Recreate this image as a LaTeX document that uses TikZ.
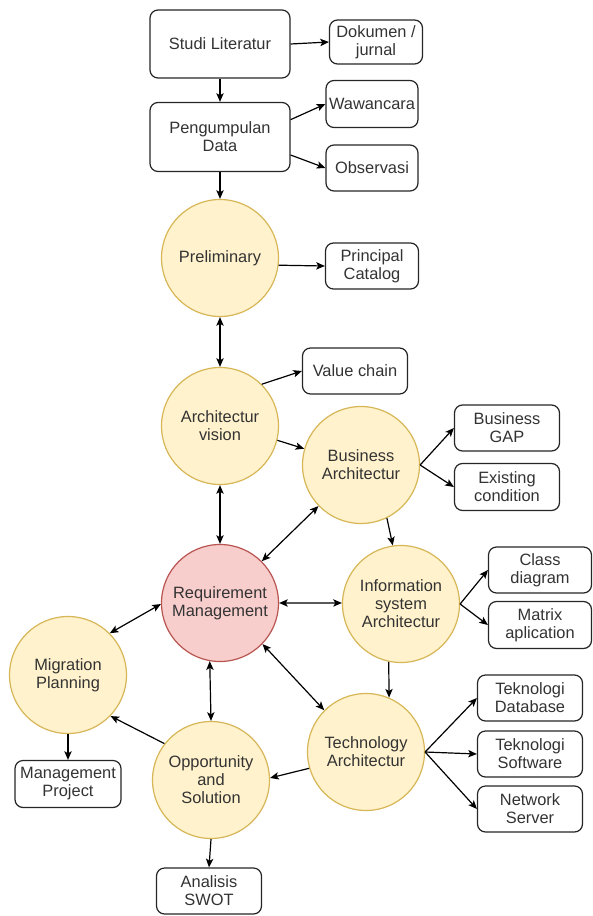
\documentclass[tikz,border=0pt]{standalone}
\usepackage{fontspec}
\setmainfont{Liberation Sans}
\usetikzlibrary{arrows.meta}
\definecolor{yfill}{HTML}{FFF2CC}
\definecolor{ydraw}{HTML}{D6B656}
\definecolor{rfill}{HTML}{F8CECC}
\definecolor{rdraw}{HTML}{B85450}
\definecolor{txt}{HTML}{333333}
\begin{document}
\begin{tikzpicture}[x=0.75pt,y=-0.75pt,
  every node/.style={font=\fontsize{12.3}{13.5}\selectfont, text=txt, align=center, inner sep=0pt},
  box/.style={draw=black!85, line width=0.9pt, rounded corners=6pt, fill=white},
  yc/.style={circle, draw=ydraw, fill=yfill, line width=0.9pt, minimum size=87.75pt},
  rc/.style={circle, draw=rdraw, fill=rfill, line width=0.9pt, minimum size=87.75pt},
  tip/.tip={Stealth[length=6.5pt,width=5.5pt,inset=1.5pt]},
  arr/.style={-tip, line width=0.9pt, draw=black},
  dbl/.style={tip-tip, line width=0.9pt, draw=black}
]
\useasboundingbox (0,0) rectangle (592,916);

% boxes
\node[box, minimum width=105pt, minimum height=51pt] (st) at (220,44) {Studi Literatur};
\node[box, minimum width=69.75pt, minimum height=33pt] (dok) at (376,42) {Dokumen /\\jurnal};
\node[box, minimum width=105pt, minimum height=51.75pt] (pe) at (220,137) {Pengumpulan\\Data};
\node[box, minimum width=69pt, minimum height=35.25pt] (wa) at (372,104) {Wawancara};
\node[box, minimum width=69pt, minimum height=34.5pt] (ob) at (372,168) {Observasi};
\node[box, minimum width=69.75pt, minimum height=34.5pt] (pc) at (372,266) {Principal\\Catalog};
\node[box, minimum width=78.75pt, minimum height=34.5pt] (vc) at (355,371) {Value chain};
\node[box, minimum width=78.75pt, minimum height=34.5pt] (gap) at (507,428) {Business\\GAP};
\node[box, minimum width=78.75pt, minimum height=35.25pt] (ex) at (507,487) {Existing\\condition};
\node[box, minimum width=77.25pt, minimum height=34.5pt] (cd) at (540,570) {Class\\diagram};
\node[box, minimum width=77.25pt, minimum height=35.25pt] (ma) at (540,625) {Matrix\\aplication};
\node[box, minimum width=78.75pt, minimum height=34.5pt] (db) at (530,698) {Teknologi\\Database};
\node[box, minimum width=78.75pt, minimum height=34.5pt] (sw) at (530,754) {Teknologi\\Software};
\node[box, minimum width=78.75pt, minimum height=34.5pt] (ns) at (530,809) {Network\\Server};
\node[box, minimum width=79.5pt, minimum height=35.25pt] (mg) at (68,784) {Management\\Project};
\node[box, minimum width=78.75pt, minimum height=34.5pt] (sa) at (209,891) {Analisis\\SWOT};

% circles
\node[yc] (pr) at (220,258) {Preliminary};
\node[yc] (av) at (220,426) {Architectur\\vision};
\node[yc] (ba) at (361,465) {Business\\Architectur};
\node[yc] (is) at (401,604) {Information\\system\\Architectur};
\node[rc] (rq) at (220,603) {Requirement\\Management};
\node[yc] (mp) at (68,675) {Migration\\Planning};
\node[yc] (ta) at (366,752) {Technology\\Architectur};
\node[yc] (op) at (211,780) {Opportunity\\and\\Solution};

% connectors
\draw[arr] (st.east) -- (dok.west);
\draw[arr] (st.south) -- (pe.north);
\draw[arr] ([yshift=13pt]pe.east) -- (wa.west);
\draw[arr] ([yshift=-13.5pt]pe.east) -- (ob.west);
\draw[arr] (pe.south) -- (pr.north);
\draw[arr] (pr.-7) -- (pc.west);
\draw[dbl] (pr.south) -- (av.north);
\draw[arr] (av.45) -- (vc.west);
\draw[arr] (av.-14) -- (ba.164);
\draw[dbl] (av.south) -- (rq.north);
\draw[arr] (ba.east) -- (gap.west);
\draw[arr] (ba.east) -- (ex.west);
\draw[arr] (ba.-64) -- (is.98);
\draw[dbl] (ba.224) -- (rq.45);
\draw[dbl] (rq.east) -- (is.179);
\draw[arr] (is.east) -- (cd.west);
\draw[arr] (is.east) -- (ma.west);
\draw[arr] (is.258) -- (ta.67);
\draw[dbl] (rq.-44) -- (ta.135);
\draw[arr] (ta.east) -- (db.west);
\draw[arr] (ta.east) -- (sw.west);
\draw[arr] (ta.east) -- (ns.west);
\draw[arr] (ta.196) -- (op.2);
\draw[dbl] (rq.260) -- (op.north);
\draw[arr] (op.142) -- (mp.-44);
\draw[dbl] (mp.45) -- (rq.181);
\draw[arr] (mp.south) -- (mg.north);
\draw[arr] (op.south) -- (sa.north);
\end{tikzpicture}
\end{document}
